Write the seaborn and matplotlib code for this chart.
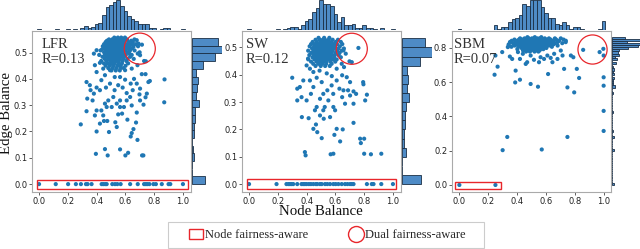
import numpy as np
import pandas as pd
import matplotlib
matplotlib.use('Agg')
import matplotlib.pyplot as plt
import seaborn as sns
from matplotlib.patches import Rectangle, Patch
from matplotlib.lines import Line2D

sns.set_style('white')
plt.rcParams['font.family'] = ['DejaVu Sans']
SERIF = ['Liberation Serif', 'DejaVu Serif']

# ---- data: (node balance, edge balance) ----
# LFR
lfr_scatter = [
    (0.872, 0.398), (0.870, 0.311), (0.290, 0.227), (0.330, 0.388), (0.330, 0.277),
    (0.400, 0.200), (0.395, 0.115), (0.458, 0.133), (0.477, 0.109), (0.486, 0.198),
    (0.563, 0.132), (0.600, 0.109), (0.619, 0.119), (0.716, 0.109), (0.725, 0.109),
    (0.684, 0.168), (0.637, 0.181), (0.644, 0.194), (0.656, 0.209), (0.614, 0.245),
    (0.674, 0.234), (0.679, 0.272), (0.423, 0.230), (0.451, 0.240), (0.474, 0.240),
    (0.530, 0.235), (0.550, 0.265), (0.577, 0.268), (0.726, 0.302), (0.702, 0.318),
    (0.740, 0.330), (0.749, 0.344), (0.760, 0.388), (0.770, 0.392), (0.740, 0.418),
    (0.714, 0.418), (0.660, 0.400), (0.651, 0.357), (0.609, 0.346), (0.400, 0.367),
    (0.381, 0.344), (0.372, 0.318), (0.400, 0.280), (0.433, 0.280), (0.458, 0.306),
    (0.470, 0.293), (0.481, 0.318), (0.516, 0.331), (0.540, 0.306), (0.563, 0.318),
    (0.590, 0.293), (0.609, 0.318), (0.633, 0.331), (0.525, 0.357), (0.550, 0.376),
    (0.581, 0.367), (0.493, 0.382), (0.465, 0.367), (0.433, 0.395), (0.458, 0.414),
    (0.423, 0.357), (0.358, 0.357), (0.353, 0.376), (0.335, 0.325), (0.446, 0.261),
    (0.388, 0.261), (0.540, 0.217), (0.505, 0.293), (0.526, 0.407), (0.563, 0.407),
    (0.598, 0.397), (0.637, 0.382), (0.679, 0.382), (0.702, 0.363), (0.698, 0.341),
    (0.644, 0.299), (0.563, 0.293), (0.493, 0.433), (0.446, 0.439), (0.400, 0.426),
    (0.388, 0.452), (0.423, 0.461), (0.381, 0.496), (0.400, 0.509), (0.598, 0.433),
    (0.644, 0.439), (0.684, 0.452), (0.730, 0.468), (0.702, 0.490), (0.679, 0.547),
    (0.691, 0.534), (0.656, 0.522), (0.742, 0.467), (0.686, 0.496), (0.715, 0.530),
]
lfr_cluster = [
    (0.557, [0.523, 0.548, 0.571, 0.597]),
    (0.550, [0.486, 0.508, 0.517, 0.534, 0.553, 0.562, 0.584, 0.612, 0.663]),
    (0.545, [0.472, 0.527, 0.556, 0.573, 0.596, 0.641]),
    (0.540, [0.463, 0.491, 0.503, 0.521, 0.538, 0.549, 0.567, 0.588, 0.622, 0.652]),
    (0.536, [0.501, 0.514, 0.532, 0.543, 0.558, 0.577]),
    (0.532, [0.452, 0.477, 0.494, 0.511, 0.526, 0.539, 0.556, 0.572, 0.591, 0.603, 0.637, 0.674]),
    (0.528, [0.461, 0.487, 0.506, 0.519, 0.536, 0.551, 0.564, 0.582, 0.617, 0.654]),
    (0.524, [0.443, 0.468, 0.489, 0.502, 0.516, 0.528, 0.546, 0.561, 0.577, 0.598, 0.627, 0.688]),
    (0.520, [0.484, 0.507, 0.522, 0.541, 0.554, 0.569, 0.592]),
    (0.516, [0.456, 0.482, 0.497, 0.509, 0.523, 0.533, 0.552, 0.567, 0.586, 0.611, 0.646]),
    (0.512, [0.438, 0.474, 0.491, 0.506, 0.524, 0.542, 0.558, 0.579, 0.602, 0.626]),
    (0.508, [0.428, 0.466, 0.483, 0.501, 0.514, 0.531, 0.544, 0.557, 0.574, 0.596, 0.632, 0.664]),
    (0.501, [0.452, 0.476, 0.492, 0.507, 0.519, 0.538, 0.561, 0.581, 0.613, 0.699]),
    (0.496, [0.466, 0.486, 0.511, 0.527, 0.546, 0.563, 0.589, 0.628]),
    (0.491, [0.418, 0.458, 0.481, 0.499, 0.513, 0.529, 0.548, 0.571, 0.603, 0.644]),
    (0.484, [0.441, 0.472, 0.488, 0.509, 0.526, 0.543, 0.566, 0.591, 0.633]),
    (0.476, [0.457, 0.484, 0.504, 0.521, 0.539, 0.561, 0.586, 0.614, 0.658]),
    (0.468, [0.432, 0.469, 0.496, 0.516, 0.534, 0.553, 0.579, 0.607]),
    (0.459, [0.451, 0.479, 0.502, 0.524, 0.551, 0.576, 0.619]),
    (0.450, [0.463, 0.492, 0.517, 0.544, 0.568, 0.601]),
    (0.441, [0.481, 0.512, 0.538, 0.566, 0.588]),
    (0.432, [0.503, 0.533, 0.561]),
]
lfr_zero = [0.0, 0.116, 0.202, 0.256, 0.291, 0.326, 0.337, 0.365, 0.435, 0.447,
            0.46, 0.47, 0.509, 0.528, 0.544, 0.567, 0.633, 0.686, 0.73, 0.742,
            0.753, 0.767, 0.795, 0.812, 0.853, 0.90, 0.912, 1.0]

# SW
sw_scatter = [
    (0.300, 0.389), (0.377, 0.379), (0.335, 0.349), (0.353, 0.355), (0.365, 0.318),
    (0.400, 0.306), (0.335, 0.306), (0.367, 0.245), (0.414, 0.241), (0.388, 0.117),
    (0.393, 0.105), (0.567, 0.109), (0.586, 0.111), (0.505, 0.168), (0.593, 0.180),
    (0.609, 0.202), (0.651, 0.200), (0.633, 0.156), (0.726, 0.224), (0.772, 0.166),
    (0.777, 0.150), (0.800, 0.111), (0.847, 0.109), (0.919, 0.111), (0.800, 0.166),
    (0.793, 0.373), (0.795, 0.365), (0.819, 0.327), (0.807, 0.306), (0.726, 0.339),
    (0.744, 0.330), (0.702, 0.324), (0.688, 0.343), (0.702, 0.373), (0.679, 0.391),
    (0.647, 0.398), (0.609, 0.379), (0.574, 0.361), (0.544, 0.343), (0.516, 0.330),
    (0.493, 0.312), (0.470, 0.282), (0.458, 0.270), (0.516, 0.270), (0.526, 0.282),
    (0.551, 0.306), (0.586, 0.282), (0.598, 0.270), (0.563, 0.245), (0.519, 0.239),
    (0.493, 0.251), (0.465, 0.218), (0.447, 0.202), (0.474, 0.190), (0.647, 0.318),
    (0.667, 0.294), (0.628, 0.349), (0.656, 0.343), (0.447, 0.355), (0.423, 0.379),
    (0.470, 0.389), (0.505, 0.373), (0.423, 0.422), (0.400, 0.434), (0.447, 0.410),
    (0.410, 0.459), (0.609, 0.422), (0.644, 0.440), (0.660, 0.428), (0.698, 0.449),
    (0.714, 0.446), (0.672, 0.477), (0.656, 0.489), (0.760, 0.498), (0.726, 0.294),
    (0.540, 0.405), (0.575, 0.395), (0.490, 0.415), (0.585, 0.330), (0.430, 0.330),
]
sw_cluster = [
    (0.535, [0.483, 0.522, 0.558]),
    (0.528, [0.462, 0.491, 0.512, 0.528, 0.553, 0.581, 0.618]),
    (0.520, [0.442, 0.471, 0.498, 0.517, 0.533, 0.552, 0.573, 0.602, 0.638]),
    (0.512, [0.431, 0.457, 0.479, 0.493, 0.508, 0.523, 0.543, 0.562, 0.587, 0.611, 0.648]),
    (0.504, [0.421, 0.452, 0.468, 0.488, 0.503, 0.518, 0.538, 0.554, 0.577, 0.598, 0.631]),
    (0.500, [0.476, 0.496, 0.511, 0.529, 0.546, 0.563, 0.582]),
    (0.496, [0.438, 0.463, 0.484, 0.501, 0.514, 0.533, 0.551, 0.567, 0.592, 0.621, 0.659]),
    (0.488, [0.411, 0.448, 0.474, 0.492, 0.509, 0.526, 0.544, 0.559, 0.581, 0.612, 0.643]),
    (0.484, [0.468, 0.489, 0.503, 0.516, 0.536, 0.549, 0.566]),
    (0.480, [0.432, 0.459, 0.483, 0.502, 0.521, 0.541, 0.556, 0.574, 0.601, 0.629]),
    (0.472, [0.419, 0.451, 0.476, 0.494, 0.513, 0.534, 0.552, 0.571, 0.596, 0.622]),
    (0.468, [0.461, 0.482, 0.506, 0.524, 0.543, 0.561]),
    (0.464, [0.441, 0.466, 0.489, 0.511, 0.531, 0.548, 0.567, 0.591, 0.638]),
    (0.456, [0.412, 0.454, 0.479, 0.499, 0.522, 0.544, 0.562, 0.586, 0.609]),
    (0.448, [0.431, 0.469, 0.494, 0.517, 0.539, 0.566, 0.599]),
    (0.440, [0.446, 0.481, 0.508, 0.536, 0.574]),
    (0.432, [0.462, 0.498, 0.529, 0.561]),
]
sw_zero = [0.0, 0.191, 0.26, 0.274, 0.284, 0.295, 0.307, 0.335, 0.365, 0.377,
           0.388, 0.40, 0.416, 0.43, 0.447, 0.465, 0.474, 0.493, 0.505, 0.528,
           0.544, 0.563, 0.586, 0.602, 0.621, 0.644, 0.667, 0.684, 0.702, 0.714,
           0.726, 0.819, 0.853, 0.865, 0.919, 1.0]

# SBM
sbm_scatter = [
    (0.250, 0.755), (0.244, 0.643), (0.265, 0.690), (0.297, 0.775), (0.336, 0.804),
    (0.350, 0.749), (0.366, 0.735), (0.387, 0.598), (0.390, 0.667), (0.420, 0.614),
    (0.406, 0.775), (0.420, 0.735), (0.460, 0.706), (0.470, 0.716), (0.494, 0.589),
    (0.545, 0.573), (0.615, 0.647), (0.645, 0.716), (0.680, 0.735), (0.726, 0.677),
    (0.749, 0.569), (0.796, 0.540), (0.814, 0.677), (0.830, 0.624), (0.858, 0.788),
    (0.972, 0.775), (0.998, 0.794), (1.000, 0.755), (1.000, 0.628), (1.000, 0.579),
    (1.000, 0.432), (1.000, 0.315), (0.332, 0.280), (0.300, 0.203), (0.749, 0.280),
    (0.571, 0.207), (0.610, 0.755), (0.657, 0.765), (0.703, 0.784), (0.773, 0.755),
    (0.790, 0.745), (0.494, 0.755), (0.517, 0.730), (0.552, 0.716), (0.440, 0.765),
    (0.715, 0.755), (0.737, 0.833), (0.563, 0.745), (0.587, 0.735), (0.633, 0.741),
    (0.378, 0.823), (0.342, 0.814),
]
sbm_cluster = [
    (0.862, [0.472, 0.523, 0.568]),
    (0.855, [0.421, 0.452, 0.481, 0.503, 0.519, 0.541, 0.558, 0.592, 0.621, 0.662, 0.703]),
    (0.848, [0.382, 0.413, 0.438, 0.462, 0.477, 0.492, 0.506, 0.518, 0.533, 0.548, 0.566, 0.581, 0.602, 0.633, 0.671, 0.722]),
    (0.841, [0.363, 0.402, 0.431, 0.452, 0.468, 0.487, 0.499, 0.514, 0.528, 0.543, 0.558, 0.576, 0.597, 0.622, 0.652, 0.691, 0.738]),
    (0.834, [0.351, 0.392, 0.421, 0.442, 0.461, 0.478, 0.494, 0.508, 0.523, 0.539, 0.553, 0.571, 0.589, 0.612, 0.643, 0.682]),
    (0.827, [0.372, 0.411, 0.436, 0.457, 0.474, 0.489, 0.503, 0.517, 0.532, 0.549, 0.563, 0.584, 0.606, 0.631, 0.662, 0.713]),
    (0.820, [0.342, 0.401, 0.428, 0.449, 0.468, 0.483, 0.498, 0.513, 0.527, 0.544, 0.561, 0.579, 0.601, 0.627, 0.652]),
    (0.813, [0.383, 0.422, 0.447, 0.466, 0.481, 0.496, 0.511, 0.524, 0.538, 0.556, 0.574, 0.596, 0.619, 0.681]),
    (0.806, [0.361, 0.409, 0.439, 0.458, 0.473, 0.488, 0.504, 0.521, 0.536, 0.551, 0.569, 0.592, 0.641]),
    (0.799, [0.431, 0.454, 0.471, 0.491, 0.509, 0.528, 0.546, 0.564, 0.603]),
    (0.792, [0.402, 0.448, 0.479, 0.501, 0.518, 0.542, 0.561, 0.582]),
    (0.785, [0.441, 0.469, 0.494, 0.516, 0.537, 0.556]),
    (0.778, [0.462, 0.489, 0.521, 0.548]),
]
sbm_zero = [0.0, 0.25]

names = ['LFR', 'SW', 'SBM']
r_values = ['R=0.13', 'R=0.12', 'R=0.07']
y_ticks = [[0.0, 0.1, 0.2, 0.3, 0.4, 0.5], [0.0, 0.1, 0.2, 0.3, 0.4, 0.5],
           [0.0, 0.2, 0.4, 0.6, 0.8]]
# centre of the "dual fairness-aware" circle in each panel
circle_x = [0.70, 0.714, 0.923]
circle_y = [0.515, 0.495, 0.79]


def build(scatter, cluster, zero):
    xs = [p[0] for p in scatter]
    ys = [p[1] for p in scatter]
    for y, row in cluster:
        xs += row
        ys += [y] * len(row)
    xs += zero
    ys += [0.0] * len(zero)
    return pd.DataFrame({'Node Balance': xs, 'Edge Balance': ys})


frames = [build(lfr_scatter, lfr_cluster, lfr_zero),
          build(sw_scatter, sw_cluster, sw_zero),
          build(sbm_scatter, sbm_cluster, sbm_zero)]

# layout (pixels)
W, H = 640, 249
lefts = [32, 242, 452]
xlims = [(-0.049, 1.056), (-0.049, 1.056), (-0.051, 1.051)]
ylims = [(-0.030, 0.582), (-0.029, 0.560), (-0.041, 0.898)]
ybins = [(19, (0, 0.555)), (16, (0, 0.533)), (70, (0, 0.865))]
rects = [(-0.012, -0.018, 1.047, 0.0345), (-0.012, -0.018, 1.032, 0.035),
         (-0.032, -0.0215, 0.322, 0.041)]
circle_size = [500, 500, 440]
text_x = [0.06, 0.025, 0.012]

blue = '#1f77b4'
hist_kw = dict(color='#3b7fc0', alpha=0.9, edgecolor='#1b2f45', linewidth=0.6)
red = '#e8262b'

fig = plt.figure(figsize=(W / 100, H / 100), dpi=100)

for i in range(3):
    df = frames[i]
    L = lefts[i]
    ax = fig.add_axes([L / W, 57 / H, 159 / W, 161 / H])
    ax_top = fig.add_axes([L / W, 219 / H, 159 / W, 30 / H], sharex=ax)
    ax_right = fig.add_axes([(L + 160) / W, 57 / H, 30 / W, 161 / H], sharey=ax)

    sns.scatterplot(data=df, x='Node Balance', y='Edge Balance', ax=ax,
                    s=9, color=blue, edgecolor='none', linewidth=0, zorder=3)
    sns.histplot(data=df, x='Node Balance', bins=41, binrange=(-0.0125, 1.0125),
                 ax=ax_top, **hist_kw)
    nb, br = ybins[i]
    sns.histplot(data=df, y='Edge Balance', bins=nb, binrange=br,
                 ax=ax_right, **hist_kw)

    top_max = max(p.get_height() for p in ax_top.patches)
    ax_top.set_ylim(0, top_max)
    right_max = max(p.get_width() for p in ax_right.patches)
    ax_right.set_xlim(0, right_max)
    ax_top.axis('off')
    ax_right.axis('off')

    # highlight markers
    x0, y0, w, h = rects[i]
    ax.add_patch(Rectangle((x0, y0), w, h, facecolor='none', edgecolor=red,
                           linewidth=1.0, zorder=4))
    ax.scatter([circle_x[i]], [circle_y[i]], s=circle_size[i], facecolors='none',
               edgecolors=red, linewidths=0.9, zorder=4)

    ax.set_xlim(*xlims[i])
    ax.set_ylim(*ylims[i])
    ax.set_xticks([0.0, 0.2, 0.4, 0.6, 0.8, 1.0])
    ax.set_yticks(y_ticks[i])
    ax.xaxis.set_major_formatter(matplotlib.ticker.FormatStrFormatter('%.1f'))
    ax.yaxis.set_major_formatter(matplotlib.ticker.FormatStrFormatter('%.1f'))
    ax.set_xlabel('')
    ax.set_ylabel('')
    ax.tick_params(axis='both', which='major', labelsize=6, length=2, width=0.6,
                   pad=1.5, colors='#444444', labelcolor='#222222',
                   left=True, bottom=True)
    for sp in ax.spines.values():
        sp.set_visible(True)
        sp.set_color('#aaaaaa')
        sp.set_linewidth(0.8)

    ax.text(text_x[i], 0.955, names[i] + '\n' + r_values[i], transform=ax.transAxes,
            ha='left', va='top', fontsize=10.5, family=SERIF, color='#333333',
            linespacing=1.15, zorder=5)

fig.text(7 / W, 1 - 113 / H, 'Edge Balance', rotation=90, ha='center', va='center',
         fontsize=10.7, family=SERIF, color='#111111')
fig.text(321 / W, 1 - 211 / H, 'Node Balance', ha='center', va='center',
         fontsize=10.7, family=SERIF, color='#111111')

# legend: frame drawn separately so the side padding matches
fig.patches.append(Rectangle((168 / W, 1 - 248 / H), 316 / W, 26 / H,
                             transform=fig.transFigure, facecolor='white',
                             edgecolor='#cccccc', linewidth=0.8))
handles = [Patch(facecolor='none', edgecolor=red, linewidth=1.0),
           Line2D([], [], linestyle='none', marker='o', markersize=11.5,
                  markerfacecolor='none', markeredgecolor=red, markeredgewidth=1.0)]
fig.legend(handles, ['Node fairness-aware', 'Dual fairness-aware'],
           loc='center', bbox_to_anchor=(327 / W, 1 - 235 / H), ncol=2,
           frameon=False, prop={'family': SERIF, 'size': 9}, handlelength=1.1,
           handleheight=0.9, handletextpad=0.15, columnspacing=3.3,
           borderpad=0.2)

fig.savefig('out.png', dpi=100)
